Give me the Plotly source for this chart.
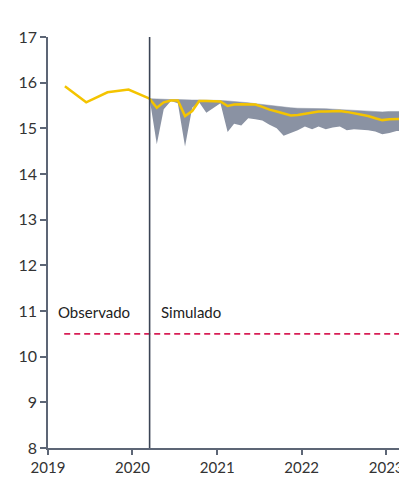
import plotly.graph_objects as go

# Observed (quarterly)
obs_dates = ["2019-03-15", "2019-06-15", "2019-09-15", "2019-12-15", "2020-03-15"]
obs_values = [15.92, 15.57, 15.79, 15.85, 15.65]

# Simulated (monthly, Mar 2020 - Mar 2023)
sim_dates = [f"{2020 + (2 + k) // 12}-{((2 + k) % 12) + 1:02d}-15" for k in range(37)]
sim_central = [15.65, 15.45, 15.57, 15.61, 15.61, 15.27, 15.38, 15.60, 15.60, 15.60,
               15.59, 15.49, 15.52, 15.53, 15.53, 15.52, 15.47, 15.41, 15.37, 15.32,
               15.28, 15.29, 15.32, 15.35, 15.37, 15.37, 15.38, 15.38, 15.36, 15.33,
               15.31, 15.27, 15.22, 15.18, 15.20, 15.21, 15.21]
sim_upper = [15.65, 15.64, 15.64, 15.63, 15.63, 15.62, 15.62, 15.62, 15.62, 15.61,
             15.61, 15.60, 15.59, 15.58, 15.56, 15.54, 15.52, 15.50, 15.48, 15.46,
             15.45, 15.44, 15.44, 15.44, 15.44, 15.43, 15.42, 15.41, 15.40, 15.39,
             15.38, 15.37, 15.36, 15.36, 15.37, 15.37, 15.37]
sim_lower = [15.65, 14.65, 15.42, 15.60, 15.55, 14.60, 15.45, 15.57, 15.34, 15.45,
             15.55, 14.92, 15.10, 15.06, 15.22, 15.20, 15.17, 15.08, 15.00, 14.84,
             14.90, 14.96, 15.04, 14.98, 15.04, 14.98, 15.02, 15.04, 14.96, 14.98,
             14.97, 14.96, 14.93, 14.87, 14.90, 14.94, 14.94]

threshold = 10.5
threshold_dates = ["2019-03-12", "2023-03-28"]
split_date = "2020-03-15"

x_ticks = ["2019-01-01", "2020-01-01", "2021-01-01", "2022-01-01", "2023-01-01"]
x_ticklabels = ["2019", "2020", "2021", "2022", "2023"]
y_ticks = [8, 9, 10, 11, 12, 13, 14, 15, 16, 17]

YELLOW = "#f4c400"
BAND = "#8a92a3"
AXIS = "#5d6676"
FONT = "Lato"

fig = go.Figure()
fig.add_trace(go.Scatter(x=sim_dates, y=sim_lower, mode="lines",
                         line=dict(width=0, color=BAND), showlegend=False, hoverinfo="skip"))
fig.add_trace(go.Scatter(x=sim_dates, y=sim_upper, mode="lines", fill="tonexty",
                         fillcolor=BAND, line=dict(width=0.5, color=BAND), showlegend=False))
fig.add_trace(go.Scatter(x=[threshold_dates[0], threshold_dates[1]], y=[threshold, threshold],
                         mode="lines", line=dict(color="#d81e55", width=1.6, dash="6px,4px"),
                         showlegend=False))
fig.add_trace(go.Scatter(x=obs_dates, y=obs_values, mode="lines",
                         line=dict(color=YELLOW, width=2.5), showlegend=False))
fig.add_trace(go.Scatter(x=sim_dates, y=sim_central, mode="lines",
                         line=dict(color=YELLOW, width=2.5), showlegend=False))

fig.add_shape(type="line", xref="x", yref="y", x0=split_date, x1=split_date, y0=8, y1=17,
              line=dict(color="#3b4455", width=1.6))

fig.add_annotation(x="2019-02-05", y=10.97, xref="x", yref="y", text="Observado",
                   showarrow=False, xanchor="left", yanchor="middle",
                   font=dict(family=FONT, size=15, color="#222222"))
fig.add_annotation(x="2020-04-25", y=10.97, xref="x", yref="y", text="Simulado",
                   showarrow=False, xanchor="left", yanchor="middle",
                   font=dict(family=FONT, size=15, color="#222222"))

fig.update_layout(
    width=399, height=475,
    margin=dict(l=40, r=0, t=29, b=35),
    paper_bgcolor="white", plot_bgcolor="white",
    font=dict(family=FONT, size=15, color="#333333"),
    xaxis=dict(type="date", range=["2019-01-01", "2023-04-01"],
               tickvals=x_ticks, ticktext=x_ticklabels,
               showgrid=False, zeroline=False, showline=True, linecolor=AXIS, linewidth=1.5,
               ticks="outside", ticklen=5, tickcolor=AXIS, tickwidth=1.5,
               tickfont=dict(family=FONT, size=15, color="#333333")),
    yaxis=dict(range=[8, 17], tickvals=y_ticks,
               showgrid=False, zeroline=False, showline=True, linecolor=AXIS, linewidth=1.5,
               ticks="outside", ticklen=6, tickcolor=AXIS, tickwidth=1.5,
               tickfont=dict(family=FONT, size=16, color="#333333")),
)

fig.write_html("out.html")
